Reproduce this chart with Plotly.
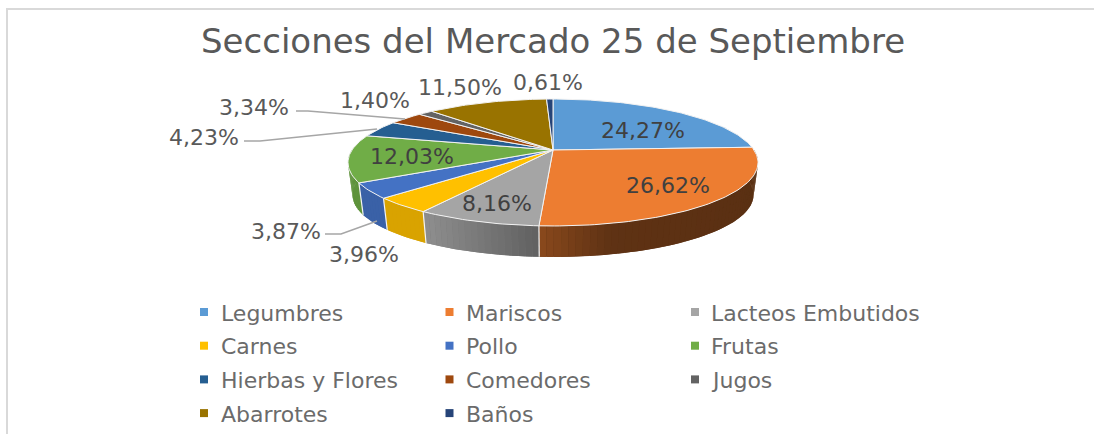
"""
Secciones del Mercado 25 de Septiembre: Excel-style 3D pie.
Plotly has no tilted pie, so the wedges are projected from the values
and drawn as filled scatter polygons on pixel-sized hidden axes.
"""

import numpy as np
import plotly.graph_objects as go

# data
SECTIONS = ["Legumbres", "Mariscos", "Lacteos Embutidos", "Carnes", "Pollo", "Frutas",
            "Hierbas y Flores", "Comedores", "Jugos", "Abarrotes", "Baños"]
SHARES = [24.27, 26.62, 8.16, 3.96, 3.87, 12.03, 4.23, 3.34, 1.40, 11.50, 0.61]
COLORS = ["#5B9BD5", "#ED7D31", "#A5A5A5", "#FFC000", "#4472C4", "#70AD47",
          "#255E91", "#9E480E", "#636363", "#997300", "#264478"]
TITLE = "Secciones del Mercado 25 de Septiembre"

# label centres in page pixels, same order as SECTIONS
LABEL_XY = [(643, 130), (668, 185), (497, 203), (364, 254), (286, 231), (412, 156),
            (204, 137), (254, 107), (375, 100), (460, 87), (548, 82)]
LEADERS = [
    ([244, 260, 377], [141, 141, 129]),
    ([296, 308, 405], [111, 111, 119]),
    ([325, 341, 377], [234, 234, 221]),
]

# projection of the tilted disc
APEX_X, APEX_Y = 553, 150
RX, RY, PERSP = 201, 61, 0.197
DEPTH, LOWER_SCALE = 32.7, 0.978

TEXT_COLOR = "#595959"
FONT = "DejaVu Sans"


def rim(theta, lower=False):
    """Theta clockwise from the top, in radians, to page pixels."""
    u, v = np.sin(theta), np.cos(theta)
    w = 1 + PERSP * v
    x, y = RX * u / w, -RY * v / w
    if lower:
        x, y = x * LOWER_SCALE, y * LOWER_SCALE + DEPTH
    return APEX_X + x, APEX_Y + y


def wall_factor(x):
    return np.interp(x, [430, 540, 610, 760], [0.85, 0.58, 0.40, 0.38])


def shade(color, f):
    r, g, b = [int(color[i:i + 2], 16) for i in (1, 3, 5)]
    return f"rgb({r * f:.0f},{g * f:.0f},{b * f:.0f})"


def wall_trace(th, c):
    xt, yt = rim(th)
    xb, yb = rim(th[::-1], lower=True)
    return go.Scatter(
        x=np.r_[xt, xb, xt[0]], y=np.r_[yt, yb, yt[0]],
        mode="lines", fill="toself", fillcolor=c,
        line=dict(color=c, width=0),
        hoverinfo="skip", showlegend=False,
    )


fig = go.Figure()
edges = np.cumsum([0] + SHARES) / sum(SHARES) * 2 * np.pi

# side wall: one flat base per slice, then short strips for the Excel gradient
for color, a0, a1 in zip(COLORS, edges[:-1], edges[1:]):
    a0c, a1c = max(a0, np.pi / 2), min(a1, 3 * np.pi / 2)
    if a1c <= a0c:
        continue
    steps = np.linspace(a0c, a1c, max(2, int((a1c - a0c) / 0.03) + 2))
    fig.add_trace(wall_trace(steps, shade(color, wall_factor(rim((a0c + a1c) / 2)[0]))))
    for s0, s1 in zip(steps[:-1], steps[1:]):
        th = np.array([s0, s1])
        fig.add_trace(wall_trace(th, shade(color, wall_factor(rim(th)[0].mean()))))

# white seams on the wall
for a in edges[:-1]:
    if np.pi / 2 < a < 3 * np.pi / 2:
        xt, yt = rim(a)
        xb, yb = rim(a, lower=True)
        fig.add_trace(go.Scatter(
            x=[xt, xb], y=[yt, yb], mode="lines",
            line=dict(color="#F4F4F4", width=1.2),
            hoverinfo="skip", showlegend=False,
        ))

# top faces
for name, share, color, a0, a1 in zip(SECTIONS, SHARES, COLORS, edges[:-1], edges[1:]):
    th = np.linspace(a0, a1, max(3, int((a1 - a0) / 0.02)))
    x, y = rim(th)
    fig.add_trace(go.Scatter(
        x=np.r_[APEX_X, x, APEX_X], y=np.r_[APEX_Y, y, APEX_Y],
        mode="lines", fill="toself", fillcolor=color,
        line=dict(color="#F2F2F2", width=1),
        name=name, text=f"{name}: {share:.2f}%", hoverinfo="text", showlegend=False,
    ))

# leader lines
for lx, ly in LEADERS:
    fig.add_trace(go.Scatter(
        x=lx, y=ly, mode="lines", line=dict(color="#A6A6A6", width=1.6),
        hoverinfo="skip", showlegend=False,
    ))

# data labels, the ones sitting on the pie read darker
for share, (lx, ly) in zip(SHARES, LABEL_XY):
    on_pie = 400 < lx < 700 and ly > 120
    fig.add_annotation(
        x=lx, y=ly, text=f"{share:.2f}%".replace(".", ","), showarrow=False,
        xanchor="center", yanchor="middle",
        font=dict(family=FONT, size=22, color="#404040" if on_pie else TEXT_COLOR),
    )

# legend laid out by hand, Excel's row pitch is out of reach for go.Legend
for i, (name, color) in enumerate(zip(SECTIONS, COLORS)):
    col, row = i % 3, i // 3
    fig.add_trace(go.Scatter(
        x=[204 + 245.5 * col], y=[312 + 33.7 * row], mode="markers",
        marker=dict(symbol="square", size=8, color=color),
        hoverinfo="skip", showlegend=False,
    ))
    fig.add_annotation(
        x=219 + 245 * col, y=313 + 33.7 * row, text=name, showarrow=False,
        xanchor="left", yanchor="middle",
        font=dict(family=FONT, size=22, color="#6B6B6B"),
    )

fig.add_annotation(
    x=553, y=41, text=TITLE, showarrow=False, xanchor="center", yanchor="middle",
    font=dict(family=FONT, size=34, color=TEXT_COLOR),
)

# chart frame, only top and left survive in the crop
fig.add_shape(type="line", x0=7, x1=7, y0=8, y1=434, line=dict(color="#D9D9D9", width=2))
fig.add_shape(type="line", x0=6, x1=1094, y0=9, y1=9, line=dict(color="#D9D9D9", width=2))

fig.update_layout(
    width=1094, height=434,
    margin=dict(l=0, r=0, t=0, b=0),
    plot_bgcolor="white", paper_bgcolor="white",
    xaxis=dict(range=[0, 1094], visible=False, fixedrange=True),
    yaxis=dict(range=[434, 0], visible=False, fixedrange=True),
    showlegend=False,
)
# the browser's default body margin would push everything 8px down and right
fig.write_html(
    "out.html",
    config=dict(displayModeBar=False),
    post_script="document.body.style.margin='0';document.body.style.overflow='hidden';",
)
